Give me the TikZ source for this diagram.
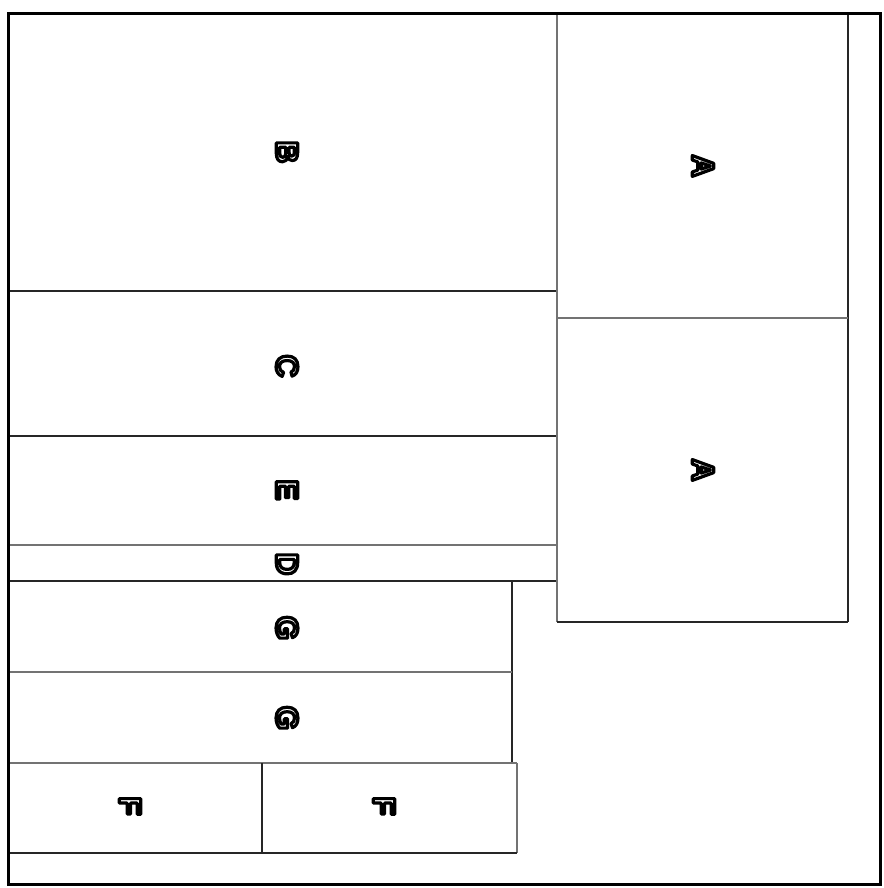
\documentclass[tikz,border=0pt]{standalone}
\usepackage{fontspec}
\setmainfont{Liberation Sans}
\newcommand{\outl}[1]{\special{pdf:literal 0 G 2 Tr 3.2 w 1 j}#1\special{pdf:literal 0 Tr}}
\begin{document}
\begin{tikzpicture}[x=1pt,y=-1pt,
  frame/.style={line width=3pt,black},
  dk/.style={line width=1.3pt,black!85},
  gr/.style={line width=1.6pt,black!55},
  lab/.style={font=\fontsize{31}{31}\selectfont\bfseries,text=white,rotate=-90,inner sep=0pt}]
\useasboundingbox (0,0) rectangle (883,888);
% regions
\coordinate (o1) at (8,14); \coordinate (o2) at (880,884);
\draw[dk] (8,291) -- (557,291);
\draw[dk] (8,436) -- (557,436);
\draw[gr] (8,545) -- (557,545);
\draw[dk] (8,581) -- (557,581);
\draw[gr] (557,14) -- (557,622);
\draw[dk] (557,622) -- (848,622);
\draw[dk] (848,14) -- (848,622);
\draw[gr] (557,318) -- (848,318);
\draw[dk] (512,581) -- (512,763);
\draw[gr] (8,672) -- (512,672);
\draw[gr] (8,763) -- (517,763);
\draw[gr] (517,763) -- (517,853);
\draw[dk] (8,853) -- (517,853);
\draw[dk] (262,763) -- (262,853);
\draw[frame] (o1) rectangle (o2);
% labels
\node[lab] (b) at (287,152) {\outl{B}};
\node[lab] (a1) at (703,166) {\outl{A}};
\node[lab] (a2) at (703,470) {\outl{A}};
\node[lab] (c) at (287,366) {\outl{C}};
\node[lab] (e) at (287,490) {\outl{E}};
\node[lab] (d) at (287,564) {\outl{D}};
\node[lab] (g1) at (287,628) {\outl{G}};
\node[lab] (g2) at (287,718) {\outl{G}};
\node[lab] (f1) at (130,806) {\outl{F}};
\node[lab] (f2) at (384,806) {\outl{F}};
\end{tikzpicture}
\end{document}
